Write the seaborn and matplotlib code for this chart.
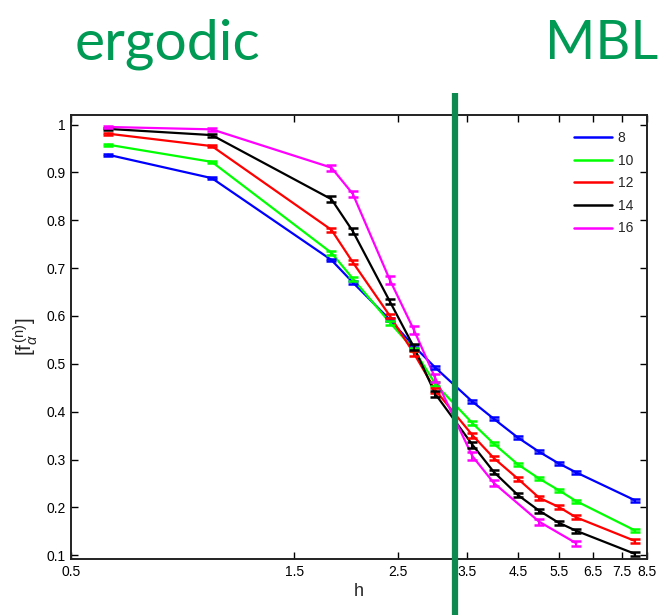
import numpy as np
import pandas as pd
import matplotlib
matplotlib.use("Agg")
import matplotlib.pyplot as plt
import matplotlib.transforms as mtransforms
from matplotlib.ticker import FixedLocator, FixedFormatter, NullLocator
import seaborn as sns

# ---------------- data ----------------
h_main = [0.6, 1.0, 1.8, 2.0, 2.4, 2.7, 3.0, 3.6, 4.0, 4.5, 5.0, 5.5, 6.0, 8.0]
h_16 = [0.6, 1.0, 1.8, 2.0, 2.4, 2.7, 3.0, 3.6, 4.0, 5.0, 6.0]

f_L8 = [0.937, 0.888, 0.717, 0.670, 0.592, 0.537, 0.492, 0.421, 0.385, 0.346, 0.316, 0.292, 0.273, 0.215]
f_L10 = [0.958, 0.922, 0.732, 0.678, 0.586, 0.530, 0.458, 0.376, 0.333, 0.290, 0.260, 0.236, 0.213, 0.152]
f_L12 = [0.981, 0.955, 0.780, 0.712, 0.600, 0.522, 0.445, 0.351, 0.303, 0.260, 0.220, 0.201, 0.179, 0.130]
f_L14 = [0.991, 0.978, 0.844, 0.777, 0.630, 0.535, 0.437, 0.331, 0.274, 0.226, 0.193, 0.168, 0.151, 0.103]
f_L16 = [0.995, 0.990, 0.910, 0.855, 0.675, 0.571, 0.470, 0.307, 0.251, 0.170, 0.125]

e_L8 = [0.002, 0.002, 0.003, 0.003, 0.003, 0.003, 0.003, 0.003, 0.003, 0.003, 0.003, 0.003, 0.003, 0.003]
e_L10 = [0.002, 0.002, 0.004, 0.004, 0.004, 0.004, 0.004, 0.004, 0.003, 0.003, 0.003, 0.003, 0.003, 0.003]
e_L12 = [0.002, 0.002, 0.004, 0.004, 0.005, 0.005, 0.005, 0.005, 0.004, 0.004, 0.004, 0.004, 0.004, 0.004]
e_L14 = [0.002, 0.003, 0.006, 0.006, 0.006, 0.006, 0.006, 0.006, 0.005, 0.005, 0.004, 0.004, 0.004, 0.004]
e_L16 = [0.002, 0.003, 0.006, 0.007, 0.008, 0.008, 0.008, 0.008, 0.007, 0.006, 0.005]

sizes = ["8", "10", "12", "14", "16"]
series_h = [h_main, h_main, h_main, h_main, h_16]
series_f = [f_L8, f_L10, f_L12, f_L14, f_L16]
series_e = [e_L8, e_L10, e_L12, e_L14, e_L16]
colors = ["#0000ff", "#00ff00", "#ff0000", "#000000", "#ff00ff"]

x_ticks = [0.5, 1.5, 2.5, 3.5, 4.5, 5.5, 6.5, 7.5, 8.5]
x_ticklabels = ["0.5", "1.5", "2.5", "3.5", "4.5", "5.5", "6.5", "7.5", "8.5"]
y_ticks = [0.1, 0.2, 0.3, 0.4, 0.5, 0.6, 0.7, 0.8, 0.9, 1.0]
y_ticklabels = ["0.1", "0.2", "0.3", "0.4", "0.5", "0.6", "0.7", "0.8", "0.9", "1"]

transition_h = 3.31
left_label = "ergodic"
right_label = "MBL"

# ---------------- build table ----------------
rows = []
for L, hs, fs, es in zip(sizes, series_h, series_f, series_e):
    for h, f, e in zip(hs, fs, es):
        rows.append({"h": h, "f": f, "err": e, "L": L})
df = pd.DataFrame(rows)

# ---------------- style ----------------
sns.set_style("ticks")
plt.rcParams["font.family"] = ["Liberation Sans", "DejaVu Sans"]
plt.rcParams["mathtext.fontset"] = "custom"
plt.rcParams["mathtext.rm"] = "Liberation Sans"
plt.rcParams["mathtext.it"] = "Liberation Sans:italic"

fig = plt.figure(figsize=(6.63, 6.15), dpi=100)
ax = fig.add_axes([0.107, 0.091, 0.869, 0.722])

palette = dict(zip(sizes, colors))
sns.lineplot(data=df, x="h", y="f", hue="L", hue_order=sizes, palette=palette,
             estimator=None, sort=True, linewidth=1.6, ax=ax, legend=True)

for L, c in zip(sizes, colors):
    sub = df[df["L"] == L]
    ax.errorbar(sub["h"], sub["f"], yerr=sub["err"], fmt="none", ecolor=c,
                elinewidth=1.5, capsize=3.5, capthick=1.8, zorder=3)

ax.set_xscale("log")
ax.set_xlim(0.5, 8.5)
ax.set_ylim(0.092, 1.02)
ax.xaxis.set_major_locator(FixedLocator(x_ticks))
ax.xaxis.set_major_formatter(FixedFormatter(x_ticklabels))
ax.xaxis.set_minor_locator(NullLocator())
ax.yaxis.set_major_locator(FixedLocator(y_ticks))
ax.yaxis.set_major_formatter(FixedFormatter(y_ticklabels))

ax.tick_params(direction="in", length=5, width=1, top=True, right=True,
               labelsize=10, colors="black", pad=4)
for sp in ax.spines.values():
    sp.set_linewidth(1.4)
    sp.set_color("#222222")

ax.set_xlabel("h", fontsize=13, labelpad=3)
ax.set_ylabel(r"$[\mathrm{f}_{\alpha}^{\,(\mathrm{n})}]$", fontsize=15, labelpad=4)

handles, labels = ax.get_legend_handles_labels()
leg = ax.legend(handles, labels, loc="upper left", frameon=False, fontsize=10,
                handlelength=2.7, handletextpad=0.4, labelspacing=0.62,
                borderaxespad=0.0, borderpad=0.0,
                bbox_to_anchor=(0.874, 0.964))
for lh in leg.get_lines():
    lh.set_linewidth(1.8)

# transition line, extends beyond the axes
trans = mtransforms.blended_transform_factory(ax.transData, ax.transAxes)
ax.plot([transition_h, transition_h], [-0.13, 1.05], transform=trans,
        clip_on=False, color="#0d8a50", lw=4.5, solid_capstyle="butt", zorder=10)

fig.text(75 / 663, 1 - 59 / 615, left_label, fontsize=41, family=["Lato", "DejaVu Sans"],
         color="#009a55", ha="left", va="baseline")
fig.text(658 / 663, 1 - 59 / 615, right_label, fontsize=39, family=["Lato", "DejaVu Sans"],
         color="#009a55", ha="right", va="baseline")

fig.savefig("out.png", dpi=100)
